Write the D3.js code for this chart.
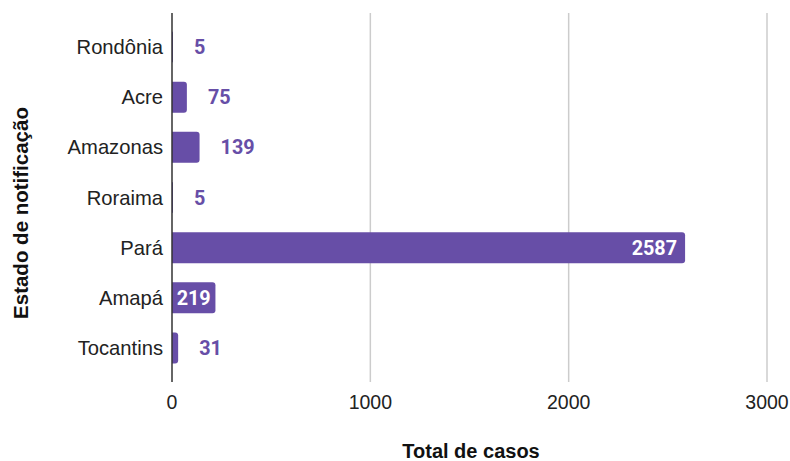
<!DOCTYPE html>
<html><head><meta charset="utf-8">
<script src="https://cdn.jsdelivr.net/npm/d3@7"></script>
<style>body{margin:0;background:#fff}svg{display:block}</style>
</head><body>
<script>
const categories = ["Rondônia","Acre","Amazonas","Roraima","Pará","Amapá","Tocantins"];
const values = [5,75,139,5,2587,219,31];
const tickValues = [0,1000,2000,3000];
const xTitle = "Total de casos";
const yTitle = "Estado de notificação";

(function(){
const W = 790, H = 461;
const pL = 172, pR = 767, pT = 13, pB = 382;
const color = "#674ea7";
const svg = d3.select("body").append("svg").attr("width", W).attr("height", H);

const x = d3.scaleLinear().domain([0,3000]).range([pL,pR]);
const y = d3.scaleBand().domain(categories).range([22,373]).paddingInner(0.38).paddingOuter(0.19);

// gridlines
svg.append("g").selectAll("line").data(tickValues.filter(d=>d>0)).join("line")
  .attr("x1", d=>x(d)).attr("x2", d=>x(d)).attr("y1", pT).attr("y2", pB)
  .attr("stroke", "#cccccc").attr("stroke-width", 1.5);

// tick labels
svg.append("g").selectAll("text").data(tickValues).join("text")
  .attr("x", d=>x(d)).attr("y", 409).attr("text-anchor","middle")
  .attr("font-family","'Liberation Sans', Arial, sans-serif").attr("font-size",19.5).attr("fill","#222")
  .text(d=>d);

// bars
const bh = 31;
const r = 3;
const data = categories.map((c,i)=>({c, v: values[i]}));
svg.append("g").selectAll("path").data(data).join("path")
  .attr("d", d=>{
    const x0 = x(0), x1 = x(d.v), yc = y(d.c)+y.bandwidth()/2, y0 = yc - bh/2, y1 = yc + bh/2;
    const rr = Math.min(r, (x1-x0));
    return `M${x0},${y0}H${x1-rr}Q${x1},${y0} ${x1},${y0+rr}V${y1-rr}Q${x1},${y1} ${x1-rr},${y1}H${x0}Z`;
  })
  .attr("fill", color);

// axis line
svg.append("line").attr("x1", pL).attr("x2", pL).attr("y1", pT).attr("y2", pB)
  .attr("stroke","#333").attr("stroke-width",1.5);

// category labels
svg.append("g").selectAll("text").data(categories).join("text")
  .attr("x", 163).attr("y", d=>y(d)+y.bandwidth()/2).attr("dy","0.35em")
  .attr("text-anchor","end")
  .attr("font-family","'Liberation Sans', Arial, sans-serif").attr("font-size",20.2).attr("fill","#222")
  .text(d=>d);

// value labels
const lab = svg.append("g").selectAll("text").data(data).join("text")
  .attr("y", d=>y(d.c)+y.bandwidth()/2).attr("dy","0.36em")
  .attr("font-family","Roboto, sans-serif").attr("font-weight","bold").attr("font-size",19.8)
  .text(d=>d.v);
lab.each(function(d){
  const t = d3.select(this);
  const tw = this.getComputedTextLength();
  const bw = x(d.v) - x(0);
  if (bw >= tw + 8) {
    const pad = Math.min(8, (bw - tw)/2);
    t.attr("x", x(d.v) - pad).attr("text-anchor","end").attr("fill","#fff");
  } else {
    t.attr("x", x(d.v) + 21).attr("text-anchor","start").attr("fill", color);
  }
});

// axis titles
svg.append("text").attr("x", 471).attr("y", 458).attr("text-anchor","middle")
  .attr("font-family","'Liberation Sans', Arial, sans-serif").attr("font-weight","bold").attr("font-size",20).attr("fill","#111")
  .text(xTitle);
svg.append("text").attr("transform","translate(28,213) rotate(-90)").attr("text-anchor","middle")
  .attr("font-family","'Liberation Sans', Arial, sans-serif").attr("font-weight","bold").attr("font-size",20.5).attr("fill","#111")
  .text(yTitle);
})();
</script>
</body></html>
